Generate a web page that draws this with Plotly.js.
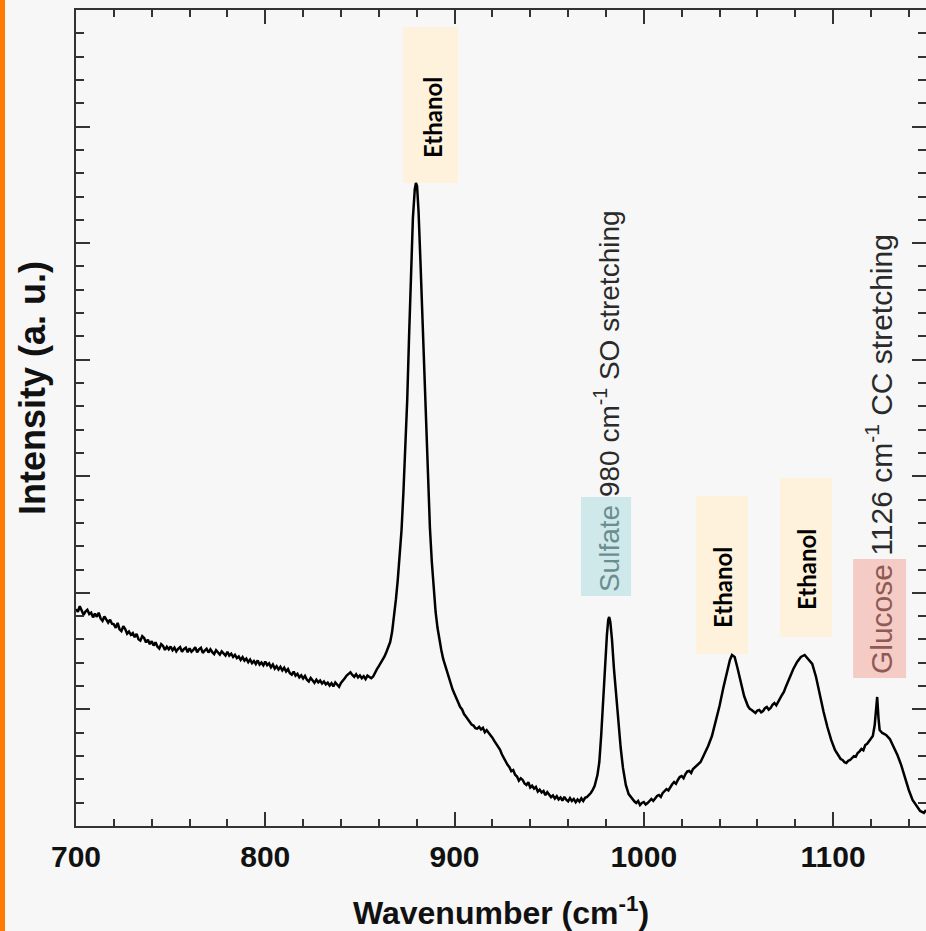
<!DOCTYPE html>
<html>
<head>
<meta charset="utf-8">
<script src="https://cdn.plot.ly/plotly-3.0.1.min.js"></script>
<style>
html,body{margin:0;padding:0;background:#f7f7f7;}
#chart{width:926px;height:931px;}
</style>
</head>
<body>
<div id="chart"></div>
<script>
// Raman spectrum (wavenumber in cm^-1, intensity in arbitrary units)
const wavenumber = [
700,701,702,703,704,705,706,707,708,709,710,711,712,713,714,715,716,717,718,719,
720,721,722,723,724,725,726,727,728,729,730,731,732,733,734,735,736,737,738,739,
740,741,742,743,744,745,746,747,748,749,750,751,752,753,754,755,756,757,758,759,
760,761,762,763,764,765,766,767,768,769,770,771,772,773,774,775,776,777,778,779,
780,781,782,783,784,785,786,787,788,789,790,791,792,793,794,795,796,797,798,799,
800,801,802,803,804,805,806,807,808,809,810,811,812,813,814,815,816,817,818,819,
820,821,822,823,824,825,826,827,828,829,830,831,832,833,834,835,836,837,838,839,
840,841,842,843,844,845,846,847,848,849,850,851,852,853,854,855,856,857,858,859,
860,861,862,863,864,866,867,868,869,870,871,872,873,874,875,876,877,878,879,879.6,
880.2,881,882,883,884,885,886,887,888,889,890,891,892,893,894,895,896,897,898,899,
900,901,902,903,904,905,906,907,908,909,910,911,912,913,914,915,916,917,918,919,
920,921,922,923,924,925,926,927,928,929,930,931,932,933,934,935,936,937,938,939,
940,941,942,943,944,945,946,947,948,949,950,951,952,953,954,955,956,957,958,959,
960,961,962,963,964,965,966,967,968,969,970,971,972,973,974,975.5,976.5,977.5,978.5,979.5,
980.5,981.2,981.7,982.3,983.2,984.2,985.2,986.5,987.8,989,990.5,992,993,994,995,996,997,998,999,1000,
1001,1002,1003,1004,1005,1006,1007,1008,1009,1010,1011,1012,1013,1014,1015,1016,1017,1018,1019,1020,
1021,1022,1023,1024,1025,1026,1027,1028,1029,1030,1032,1034,1036,1038,1040,1042,1044,1045.5,1046.6,1048,
1049.5,1051,1053,1055,1056,1057,1058,1059,1060,1061,1062,1063,1064,1065,1066,1067,1068,1069,1070,1071,
1072,1073,1074,1075,1077,1079,1081,1083,1085,1087,1089,1091,1093,1095,1097,1099,1101,1103,1104,1105,
1106,1107,1108,1109,1110,1111,1112,1113,1114,1115,1116,1117,1118,1119,1120,1121,1122,1122.7,1123.3,1124,
1124.6,1126,1128,1130,1132,1134,1136,1138,1140,1142,1144,1146,1148,1149.1
];
const intensity = [
1860,1838,1885,1848,1812,1840,1855,1818,1830,1790,1822,1795,1830,1780,1760,1798,1772,1745,1770,1735,
1730,1700,1742,1688,1672,1715,1690,1650,1668,1640,1655,1620,1648,1602,1590,1628,1612,1575,1598,1560,
1585,1548,1575,1540,1522,1560,1545,1510,1538,1515,1540,1508,1530,1498,1520,1535,1495,1518,1530,1490,
1525,1495,1510,1535,1490,1515,1528,1485,1505,1520,1488,1515,1492,1475,1508,1490,1470,1498,1480,1462,
1495,1462,1478,1450,1468,1440,1455,1425,1448,1418,1435,1405,1428,1398,1415,1390,1420,1385,1402,1378,
1410,1380,1395,1362,1385,1350,1370,1342,1365,1335,1358,1325,1345,1310,1298,1325,1290,1305,1275,1292,
1265,1288,1255,1240,1270,1245,1228,1255,1232,1248,1222,1240,1215,1230,1205,1225,1198,1232,1210,1195,
1228,1245,1268,1290,1305,1318,1295,1280,1302,1275,1292,1268,1285,1260,1290,1275,1268,1282,1320,1345,
1372,1398,1424,1455,1493,1578,1664,1793,1939,2110,2299,2539,2865,3225,3654,4212,4752,5215,5464,5516,
5490,5267,4838,4358,3843,3345,2908,2556,2265,2007,1836,1700,1596,1510,1433,1380,1321,1270,1218,1170,
1132,1095,1060,1020,1000,960,940,915,895,870,862,840,835,850,828,842,805,822,800,780,
758,730,705,690,655,615,580,560,525,505,470,480,440,425,390,410,395,365,352,375,
330,345,320,335,295,312,288,300,265,290,270,248,262,235,255,228,245,218,250,225,
212,240,215,232,205,228,210,238,215,242,250,265,283,310,343,437,549,781,1081,1381,
1638,1767,1793,1750,1596,1355,1141,909,669,498,352,274,250,232,212,197,215,180,198,206,
185,197,220,232,215,240,258,266,250,283,300,317,305,335,358,377,362,395,420,429,
410,446,468,472,455,489,505,515,530,549,618,686,772,892,1029,1184,1330,1424,1467,1450,
1355,1244,1115,1029,1005,995,980,969,990,995,975,986,1010,1021,998,1012,1040,1055,1035,1072,
1095,1124,1150,1192,1270,1347,1407,1450,1467,1433,1390,1278,1124,978,849,738,652,592,575,566,
548,540,560,566,585,600,595,626,640,661,650,695,705,729,745,772,866,995,1107,926,
824,798,781,746,678,609,523,412,309,223,172,129,112,137
];

// Peak labels
const ethanolX = [888.1, 1041.3, 1085.7];
const ethanolY = [6073, 2050, 2196];
const ethanolBoxX0 = [872.8, 1027.6, 1072.0];
const ethanolBoxX1 = [901.9, 1055.1, 1099.5];
const ethanolBoxY0 = [5516, 1475, 1621];
const ethanolBoxY1 = [6854, 2831, 2985];
const bandLabels = [
  {name: 'Sulfate', rest: ' 980 cm<sup>-1</sup> SO stretching', x: 980.6, y: 3646, size: 28,
   box: [966.8, 993.3, 1973, 2822], fill: '#cfe8e9', color: '#6a8d8f'},
  {name: 'Glucose', rest: ' 1126 cm<sup>-1</sup> CC stretching', x: 1124.3, y: 3191, size: 30,
   box: [1110.6, 1138.6, 1270, 2290], fill: '#f5cbc6', color: '#8f5a53'}
];

const axisColor = '#333333';
const shapes = [];
const annotations = [];
for (let i = 0; i < ethanolX.length; i++) {
  shapes.push({type: 'rect', xref: 'x', yref: 'y', layer: 'below',
    x0: ethanolBoxX0[i], x1: ethanolBoxX1[i], y0: ethanolBoxY0[i], y1: ethanolBoxY1[i],
    fillcolor: '#fff2dc', line: {width: 0}});
  annotations.push({x: ethanolX[i], y: ethanolY[i], xref: 'x', yref: 'y', showarrow: false,
    text: 'Ethanol', textangle: -90, xanchor: 'center', yanchor: 'middle',
    font: {family: 'Lato, "Open Sans", sans-serif', size: 24, weight: 'bold', color: '#000'}});
}
bandLabels.forEach(b => {
  shapes.push({type: 'rect', xref: 'x', yref: 'y', layer: 'below',
    x0: b.box[0], x1: b.box[1], y0: b.box[2], y1: b.box[3],
    fillcolor: b.fill, line: {width: 0}});
  annotations.push({x: b.x, y: b.y, xref: 'x', yref: 'y', showarrow: false,
    text: "<span style='color:" + b.color + "'>" + b.name + "</span>" + b.rest,
    textangle: -90, xanchor: 'center', yanchor: 'middle',
    font: {family: '"Liberation Sans", Arial, sans-serif', size: b.size, color: '#2a2a2a'}});
});
// y-axis title
annotations.push({xref: 'paper', yref: 'paper', x: -0.0506, y: 0.5368, showarrow: false,
  text: 'Intensity (a. u.)', textangle: -90, xanchor: 'center', yanchor: 'middle',
  font: {family: '"Liberation Sans", Arial, sans-serif', size: 36, weight: 'bold', color: '#111'}});
// orange strip at page left edge
shapes.push({type: 'rect', xref: 'paper', yref: 'paper', x0: -0.1, x1: -0.0835, y0: -0.2, y1: 1.02,
  fillcolor: '#ff7a00', line: {width: 0}, layer: 'below'});

const trace = {x: wavenumber, y: intensity, type: 'scatter', mode: 'lines',
  line: {color: '#000', width: 2.5}, hoverinfo: 'skip'};

const layout = {
  width: 926, height: 931,
  margin: {l: 76, r: 0, t: 10, b: 105, pad: 0},
  paper_bgcolor: '#f7f7f7', plot_bgcolor: '#f7f7f7',
  showlegend: false,
  font: {family: '"Liberation Sans", Arial, sans-serif', color: '#111'},
  xaxis: {
    range: [700, 1149.1], tick0: 700, dtick: 100,
    ticks: 'inside', ticklen: 14, tickwidth: 2, tickcolor: axisColor,
    showline: true, linecolor: axisColor, linewidth: 2, mirror: 'allticks',
    showgrid: false, zeroline: false, ticklabelstandoff: 3,
    minor: {dtick: 20, ticks: 'inside', ticklen: 7, tickwidth: 2, tickcolor: axisColor, showgrid: false},
    tickfont: {size: 30, weight: 'bold', color: '#111'},
    title: {text: 'Wavenumber (cm<sup>-1</sup>)', font: {size: 32, weight: 'bold', color: '#111'}, standoff: 32}
  },
  yaxis: {
    range: [0, 7000], tick0: 0, dtick: 1000, showticklabels: false,
    ticks: 'inside', ticklen: 14, tickwidth: 2, tickcolor: axisColor,
    showline: true, linecolor: axisColor, linewidth: 2, mirror: 'allticks',
    showgrid: false, zeroline: false,
    minor: {dtick: 200, ticks: 'inside', ticklen: 8, tickwidth: 2, tickcolor: axisColor, showgrid: false}
  },
  shapes: shapes,
  annotations: annotations
};

Plotly.newPlot('chart', [trace], layout, {displayModeBar: false, staticPlot: true});
</script>
</body>
</html>
